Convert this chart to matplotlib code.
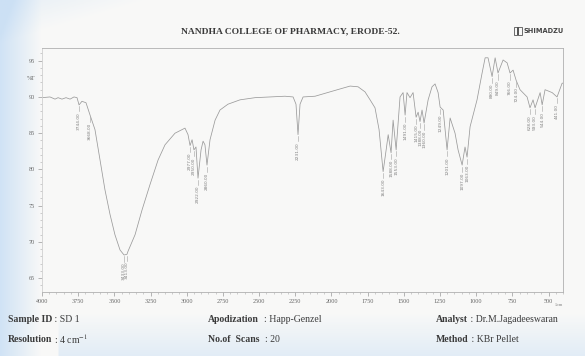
import numpy as np
import matplotlib.pyplot as plt
from matplotlib.patches import Rectangle

plt.rcParams['mathtext.fontset'] = 'stix'

# IR trace: wavenumber (1/cm) and transmittance (%T)
wavenumber = [4000, 3945, 3910, 3889, 3862, 3834, 3806, 3779, 3758, 3744,
              3724, 3696, 3668, 3634, 3599, 3565, 3530, 3496, 3461, 3433,
              3413, 3406, 3357, 3309, 3254, 3198, 3150, 3081, 3012, 2991,
              2977, 2963, 2950, 2936, 2922, 2901, 2887, 2874, 2860, 2839,
              2804, 2770, 2715, 2632, 2528, 2424, 2321, 2265, 2245, 2231,
              2217, 2196, 2113, 2010, 1941, 1871, 1816, 1768, 1733, 1699,
              1671, 1643, 1622, 1608, 1588, 1574, 1553, 1526, 1505, 1491,
              1478, 1457, 1436, 1415, 1401, 1388, 1374, 1360, 1332, 1305,
              1284, 1263, 1249, 1228, 1201, 1180, 1146, 1125, 1097, 1077,
              1063, 1042, 994, 959, 938, 918, 890, 869, 849, 814,
              786, 766, 745, 724, 697, 648, 628, 607, 593, 558,
              544, 524, 475, 441, 406, 400]
transmittance = [89.9, 90.0, 89.7, 89.9, 89.7, 89.9, 89.7, 90.0, 89.9, 88.9,
                 89.4, 89.2, 87.5, 85.5, 81.3, 77.2, 73.8, 71.0, 68.9, 68.2,
                 68.3, 68.7, 71.0, 74.4, 77.9, 81.3, 83.4, 85.0, 85.7, 84.8,
                 83.3, 84.1, 82.7, 83.1, 78.8, 82.7, 83.9, 83.4, 80.6, 84.1,
                 86.8, 88.2, 89.0, 89.6, 89.9, 90.0, 90.1, 90.0, 89.0, 84.8,
                 89.0, 90.0, 90.1, 90.7, 91.1, 91.5, 91.4, 90.7, 89.6, 88.5,
                 85.5, 79.7, 82.7, 84.8, 82.3, 86.8, 82.7, 90.0, 90.6, 87.5,
                 90.6, 89.9, 90.6, 87.2, 87.9, 86.6, 88.2, 86.4, 89.6, 91.4,
                 91.8, 90.6, 88.6, 88.2, 82.7, 87.1, 85.0, 82.7, 80.6, 83.1,
                 81.7, 85.9, 89.6, 93.3, 95.4, 95.4, 92.8, 95.4, 93.3, 95.1,
                 94.7, 93.3, 93.7, 92.3, 91.0, 90.0, 88.5, 89.6, 88.5, 90.6,
                 88.9, 91.0, 90.6, 90.0, 91.9, 91.9]

# bands picked by the peak table (indices into the trace)
peak_idx = [9, 12, 19, 20, 30, 32, 34, 38, 49, 61, 64, 66, 69, 73, 75, 77,
            82, 84, 88, 90, 96, 98, 101, 103, 106, 108, 110, 113]

x_ticks = [4000, 3750, 3500, 3250, 3000, 2750, 2500, 2250, 2000, 1750,
           1500, 1250, 1000, 750, 500]
y_ticks = [65, 70, 75, 80, 85, 90, 95]

W, H = 585, 356
fig = plt.figure(figsize=(W / 100, H / 100), dpi=100)

# scanned paper background with a bluish tint at the edges
bg = fig.add_axes([0, 0, 1, 1])
xx, yy = np.meshgrid(np.linspace(0, 1, 300), np.linspace(0, 1, 200))
tint = np.clip(1 - xx / 0.07, 0, 1) * 0.9 + np.clip((yy - 0.88) / 0.12, 0, 1) * 0.5 * (xx > 0.1)
tint += np.clip(1 - (xx / 0.25 + yy / 0.12), 0, 1) * 0.4
tint = np.clip(tint, 0, 1)
paper = np.array([0.975, 0.975, 0.97])
blue = np.array([0.80, 0.88, 0.96])
img = paper[None, None, :] * (1 - tint[..., None]) + blue[None, None, :] * tint[..., None]
bg.imshow(img, aspect='auto', extent=[0, 1, 0, 1], origin='upper')
bg.set_xlim(0, 1)
bg.set_ylim(0, 1)
bg.axis('off')

ax = fig.add_axes([42 / W, 1 - 292 / H, (563 - 42) / W, (292 - 48) / H])
ax.patch.set_alpha(0)
ax.plot(wavenumber, transmittance, color='#9a9a9a', lw=0.55)
ax.set_xlim(4000, 400)
ax.set_ylim(63.1, 96.75)

ax.set_xticks(x_ticks)
ax.set_xticks(np.arange(400, 4001, 50), minor=True)
ax.set_yticks(y_ticks)
ax.set_yticks(np.arange(64, 97, 1), minor=True)
ax.tick_params(axis='both', which='major', length=3, width=0.5, color='#999999',
               labelsize=4.4, labelcolor='#666666', pad=2)
ax.tick_params(axis='both', which='minor', length=1.5, width=0.4, color='#aaaaaa')
for lab in ax.get_xticklabels() + ax.get_yticklabels():
    lab.set_fontfamily('Liberation Serif')
for side in ['left', 'right', 'top', 'bottom']:
    ax.spines[side].set_color('#b0b0b0')
    ax.spines[side].set_linewidth(0.6)
ax.spines['left'].set_color('#d0d0d0')

ax.text(-0.012, 92.5, '%T', transform=ax.get_yaxis_transform(), ha='right',
        va='center', fontsize=4.2, color='#666666', family='Liberation Serif')
ax.text(1.0, -0.045, '1/cm', transform=ax.transAxes, ha='right', va='top',
        fontsize=3, color='#777777', family='Liberation Serif')

# peak table labels under each band
for i in peak_idx:
    wn, t = wavenumber[i], transmittance[i]
    ax.plot([wn, wn], [t - 0.2, t - 0.9], color='#a0a0a0', lw=0.4)
    ax.text(wn, t - 1.0, f'{wn:.2f}', rotation=90, ha='center', va='top',
            fontsize=3.1, color='#808080', family='DejaVu Sans')

# header
fig.text(290 / W, 1 - 31 / H, 'NANDHA COLLEGE OF PHARMACY, ERODE-52.',
         ha='center', va='center', fontsize=6.8, fontweight='bold',
         color='#3a3a3a', family='Liberation Serif')
fig.patches.append(Rectangle((514 / W, 1 - 35 / H), 8 / W, 8 / H, transform=fig.transFigure,
                             fill=False, edgecolor='#555555', lw=0.6))
fig.patches.append(Rectangle((517 / W, 1 - 35 / H), 2 / W, 8 / H, transform=fig.transFigure,
                             facecolor='#555555', edgecolor='none'))
fig.text(524 / W, 1 - 31 / H, 'SHIMADZU', ha='left', va='center', fontsize=4.8,
         fontweight='bold', color='#444444', family='DejaVu Sans')

# footer: acquisition parameters
footer = [
    (8, 320, 'Sample ID', ' : SD 1'),
    (8, 339, 'Resolution', ' : 4 cm$^{-1}$'),
    (208, 320, 'Apodization', '  : Happ-Genzel'),
    (208, 339, 'No.of  Scans', '  : 20'),
    (436, 320, 'Analyst', ' : Dr.M.Jagadeeswaran'),
    (436, 339, 'Method', ' : KBr Pellet'),
]
for x, y, key, val in footer:
    t = fig.text(x / W, 1 - y / H, key, ha='left', va='center', fontsize=7,
                 fontweight='bold', color='#3a3a3a', family='Liberation Serif')
    fig.canvas.draw()
    bb = t.get_window_extent()
    fig.text(bb.x1 / W, 1 - y / H, val, ha='left', va='center', fontsize=7,
             color='#3a3a3a', family='Liberation Serif')

fig.savefig('out.png', dpi=100)
